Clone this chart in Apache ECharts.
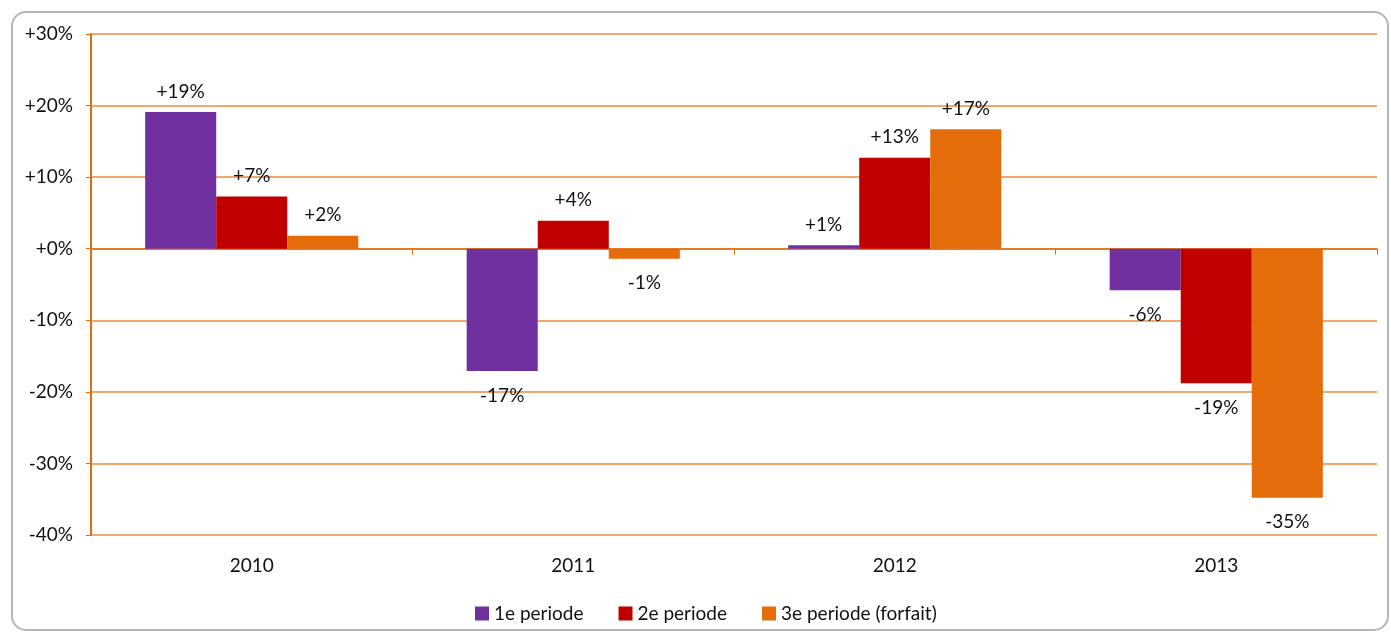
<!DOCTYPE html>
<html>
<head>
<meta charset="utf-8">
<script src="https://cdn.jsdelivr.net/npm/echarts@6/dist/echarts.min.js"></script>
<style>
  html, body { margin: 0; padding: 0; background: #fff; }
  #chart { width: 1391px; height: 635px; }
</style>
</head>
<body>
<div id="chart"></div>
<script>
// jaren en procentuele verandering per periode
const years = ['2010', '2011', '2012', '2013']
const periode1 = [19.1, -17.1, 0.5, -5.8]
const periode2 = [7.3, 3.9, 12.7, -18.8]
const periode3 = [1.8, -1.4, 16.7, -34.8]
const seriesNames = ['1e periode', '2e periode', '3e periode (forfait)']
const colors = ['#7030A0', '#C00000', '#E46C0A']

const chart = echarts.init(document.getElementById('chart'))
const font = 'Lato, "Open Sans", sans-serif'
const fs = 19
const axisOrange = '#E46C0A'

const pct = (v) => (v >= 0 ? '+' : '') + Math.round(v) + '%'

const makeSeries = (name, values, color) => ({
  name: name,
  type: 'bar',
  xAxisIndex: 0,
  barGap: '0%',
  barCategoryGap: '33.7%',
  itemStyle: { color: color },
  data: values.map((v) => ({
    value: v,
    label: {
      show: true,
      position: v >= 0 ? 'top' : 'bottom',
      distance: v >= 0 ? 11 : 15,
      formatter: (p) => pct(p.value),
      color: '#111',
      fontSize: fs,
      fontFamily: font
    }
  }))
})

const option = {
  animation: false,
  color: colors,
  graphic: [{
    type: 'rect',
    shape: { x: 12, y: 12, width: 1376, height: 618, r: 14 },
    style: { fill: 'none', stroke: '#b5b5b5', lineWidth: 2 },
    z: -1
  }],
  grid: { left: 91, right: 14, top: 34, bottom: 100 },
  legend: {
    data: seriesNames,
    left: 470,
    top: 599,
    itemWidth: 14,
    itemHeight: 14,
    itemGap: 35,
    icon: 'rect',
    textStyle: { fontSize: fs, fontFamily: font, color: '#111' }
  },
  xAxis: [
    {
      type: 'category',
      data: years,
      position: 'bottom',
      axisLine: { show: false, onZero: false },
      axisTick: { show: false },
      axisLabel: { fontSize: fs, fontFamily: font, color: '#111', margin: 21 }
    },
    {
      type: 'category',
      data: years,
      position: 'bottom',
      axisLine: { onZero: true, lineStyle: { color: axisOrange, width: 1.5 } },
      axisTick: { show: true, length: 6, lineStyle: { color: axisOrange } },
      axisLabel: { show: false }
    }
  ],
  yAxis: {
    type: 'value',
    min: -40,
    max: 30,
    interval: 10,
    axisLine: { show: true, lineStyle: { color: axisOrange, width: 2 } },
    axisTick: { show: true, length: 5, lineStyle: { color: axisOrange } },
    splitLine: { lineStyle: { color: '#EE8A3C', width: 1.5 } },
    axisLabel: {
      formatter: (v) => (v >= 0 ? '+' : '') + v + '%',
      fontSize: fs,
      fontFamily: font,
      color: '#111',
      margin: 18
    }
  },
  series: [
    makeSeries(seriesNames[0], periode1, colors[0]),
    makeSeries(seriesNames[1], periode2, colors[1]),
    makeSeries(seriesNames[2], periode3, colors[2])
  ]
}

chart.setOption(option)
</script>
</body>
</html>
